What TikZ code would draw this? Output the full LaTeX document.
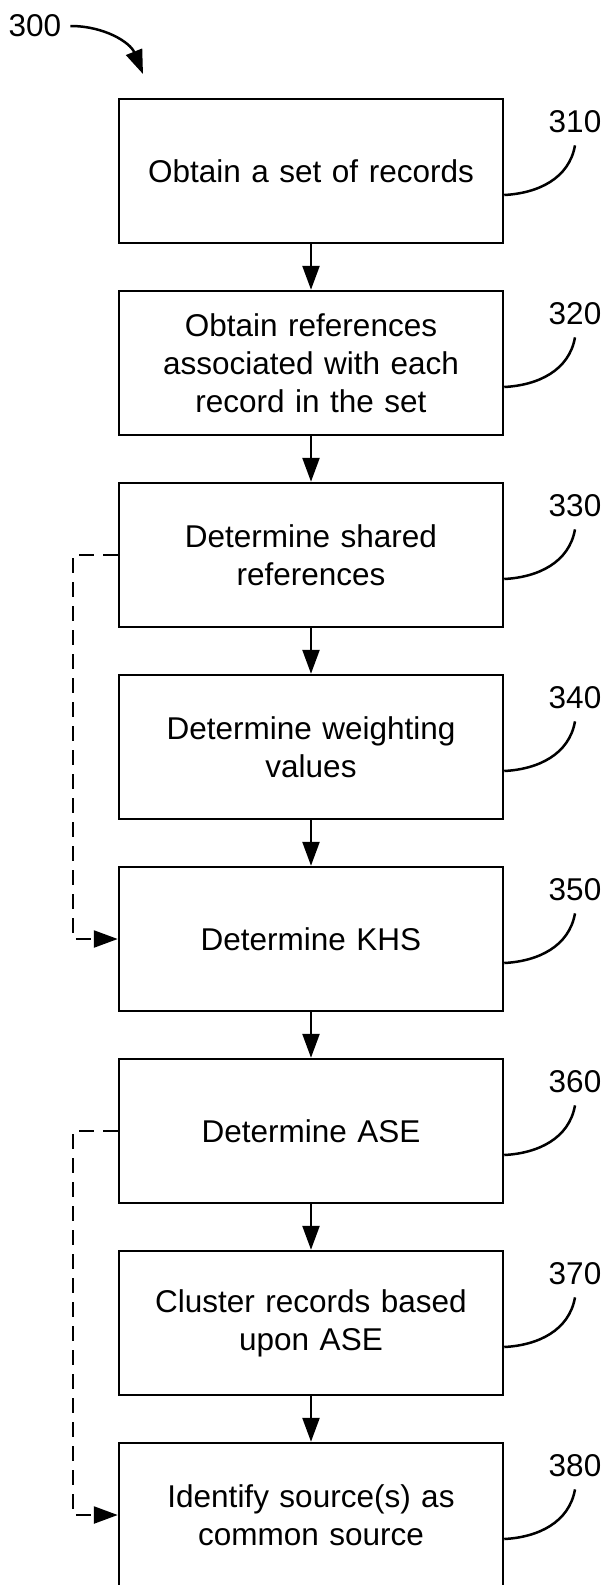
\documentclass[tikz,border=0pt]{standalone}
\usepackage{fontspec}
\setmainfont{Liberation Sans}
\usetikzlibrary{arrows.meta}
\tikzstyle{box}=[rectangle,draw=black,line width=2.5pt,minimum width=384pt,minimum height=144pt,text width=370pt,inner sep=0pt,align=center,font=\fontsize{31.5pt}{38pt}\selectfont]
\tikzstyle{lbl}=[inner sep=0pt,font=\fontsize{31.5pt}{38pt}\selectfont]
\tikzstyle{arr}=[line width=2.5pt,-{Triangle[length=24pt,width=17pt]}]
\tikzstyle{lead}=[line width=2.5pt]
\tikzstyle{dashline}=[line width=2.5pt,dash pattern=on 15pt off 9pt,-{Triangle[length=24pt,width=17pt]}]

\begin{document}
\begin{tikzpicture}[x=1pt,y=-1pt]
\useasboundingbox (0,0) rectangle (607,1585);

\node (b310) at (311,171) [box] {Obtain a set of records};
\node (b320) at (311,363) [box] {Obtain references\\associated with each\\record in the set};
\node (b330) at (311,555) [box] {Determine shared\\references};
\node (b340) at (311,747) [box] {Determine weighting\\values};
\node (b350) at (311,939) [box] {Determine KHS};
\node (b360) at (311,1131) [box] {Determine ASE};
\node (b370) at (311,1323) [box] {Cluster records based\\upon ASE};
\node (b380) at (311,1515) [box] {Identify source(s) as\\common source};

\node (l300) at (35,26) [lbl] {300};
\coordinate (c300) at (143,74);
\draw[arr] ([xshift=9pt]l300.east) to [out=0,in=112] (c300);

\node (l310) at (575,122) [lbl] {310};
\node (l320) at (575,314) [lbl] {320};
\node (l330) at (575,506) [lbl] {330};
\node (l340) at (575,698) [lbl] {340};
\node (l350) at (575,890) [lbl] {350};
\node (l360) at (575,1082) [lbl] {360};
\node (l370) at (575,1274) [lbl] {370};
\node (l380) at (575,1466) [lbl] {380};

\draw[arr] (b310) -- (b320);
\draw[arr] (b320) -- (b330);
\draw[arr] (b330) -- (b340);
\draw[arr] (b340) -- (b350);
\draw[arr] (b350) -- (b360);
\draw[arr] (b360) -- (b370);
\draw[arr] (b370) -- (b380);

\draw[dashline] (b330.west) -- ++(-45,0) |- (b350.west);
\draw[dashline] (b360.west) -- ++(-45,0) |- (b380.west);

\draw[lead] ([yshift=-24pt]b310.east) to [out=3,in=-100] ([yshift=-12pt]l310.south);
\draw[lead] ([yshift=-24pt]b320.east) to [out=3,in=-100] ([yshift=-12pt]l320.south);
\draw[lead] ([yshift=-24pt]b330.east) to [out=3,in=-100] ([yshift=-12pt]l330.south);
\draw[lead] ([yshift=-24pt]b340.east) to [out=3,in=-100] ([yshift=-12pt]l340.south);
\draw[lead] ([yshift=-24pt]b350.east) to [out=3,in=-100] ([yshift=-12pt]l350.south);
\draw[lead] ([yshift=-24pt]b360.east) to [out=3,in=-100] ([yshift=-12pt]l360.south);
\draw[lead] ([yshift=-24pt]b370.east) to [out=3,in=-100] ([yshift=-12pt]l370.south);
\draw[lead] ([yshift=-24pt]b380.east) to [out=3,in=-100] ([yshift=-12pt]l380.south);
\end{tikzpicture}
\end{document}
